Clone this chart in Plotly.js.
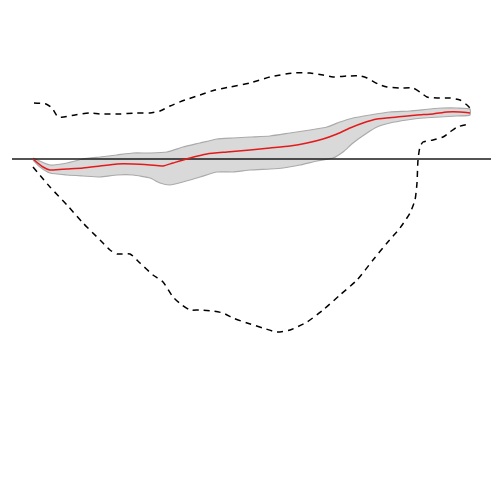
<!DOCTYPE html>
<html>
<head>
<meta charset="utf-8">
<script src="https://cdn.plot.ly/plotly-3.0.1.min.js"></script>
<style>
  html, body { margin: 0; padding: 0; background: #fff; }
  #chart { width: 500px; height: 500px; }
</style>
</head>
<body>
<div id="chart"></div>
<script>
// Values (unlabelled chart, so kept in its own plot units)
const upperX = [34, 46, 52, 58, 64, 75, 90, 100, 120, 135, 150, 160, 170, 185, 200, 215, 230, 250, 270, 293, 310, 323, 333, 347, 360, 367, 378, 387, 400, 413, 420, 427, 437, 450, 460, 467, 470];
const upperY = [103, 104, 108, 117, 117, 115, 113, 114, 114, 113, 113, 111, 106, 100, 95, 90, 87, 83, 77, 73, 73, 75, 77, 76, 76, 78, 84, 87, 88, 88, 92, 97, 98, 98, 100, 105, 108];

const lowerX = [33, 50, 67, 83, 100, 110, 117, 130, 140, 153, 163, 173, 182, 190, 200, 213, 223, 233, 247, 263, 277, 290, 307, 323, 340, 357, 373, 387, 400, 410, 415, 417, 418, 420, 423, 433, 443, 450, 457, 470];
const lowerY = [167, 187, 205, 223, 240, 250, 254, 254, 263, 275, 282, 297, 305, 310, 310, 311, 313, 318, 323, 328, 332, 330, 322, 310, 295, 280, 260, 243, 228, 213, 200, 183, 160, 147, 142, 140, 137, 132, 127, 124];

const meanX = [33, 43, 50, 67, 83, 100, 117, 133, 150, 163, 173, 190, 207, 227, 250, 270, 290, 307, 323, 337, 350, 363, 377, 397, 417, 433, 447, 460, 470];
const meanY = [159, 167, 170, 169, 168, 166, 164, 164, 165, 166, 163, 158, 154, 152, 150, 148, 146, 143, 139, 134, 128, 123, 119, 117, 115, 114, 112, 112, 113];

const bandHiX = [33, 50, 67, 83, 100, 117, 133, 150, 167, 183, 200, 217, 233, 250, 270, 290, 310, 327, 340, 353, 370, 390, 410, 430, 443, 457, 470];
const bandHiY = [158, 165, 163, 159, 157, 155, 153, 153, 152, 147, 143, 139, 138, 137, 136, 133, 130, 127, 122, 118, 115, 112, 111, 109, 108, 108, 109];

const bandLoX = [33, 40, 50, 67, 83, 100, 117, 133, 150, 160, 170, 183, 200, 217, 233, 250, 270, 283, 300, 317, 333, 343, 353, 367, 377, 390, 407, 423, 440, 457, 470];
const bandLoY = [160, 167, 173, 175, 176, 177, 175, 175, 178, 183, 185, 182, 177, 172, 172, 170, 169, 168, 165, 161, 158, 152, 143, 133, 127, 123, 120, 118, 117, 116, 115];

const zeroX = [12, 491];
const zeroY = [159, 159];

// Band as one closed polygon: upper edge then the lower edge reversed
const bandX = bandHiX.concat(bandLoX.slice().reverse());
const bandY = bandHiY.concat(bandLoY.slice().reverse());

const dashStyle = { color: '#000000', width: 1.5, dash: '6px,5px' };

const traces = [
  {
    x: bandX, y: bandY,
    type: 'scatter', mode: 'lines',
    fill: 'toself', fillcolor: '#d9d9d9',
    line: { color: '#aaaaaa', width: 1.2, shape: 'spline', smoothing: 0.5 },
    hoverinfo: 'skip'
  },
  {
    x: zeroX, y: zeroY,
    type: 'scatter', mode: 'lines',
    line: { color: '#1a1a1a', width: 1.6 }
  },
  {
    x: upperX, y: upperY,
    type: 'scatter', mode: 'lines',
    line: Object.assign({ shape: 'spline', smoothing: 0.6 }, dashStyle)
  },
  {
    x: lowerX, y: lowerY,
    type: 'scatter', mode: 'lines',
    line: Object.assign({ shape: 'spline', smoothing: 0.6 }, dashStyle)
  },
  {
    x: meanX, y: meanY,
    type: 'scatter', mode: 'lines',
    line: { color: '#e31a1c', width: 1.5, shape: 'spline', smoothing: 0.6 }
  }
];

const layout = {
  width: 500,
  height: 500,
  paper_bgcolor: '#ffffff',
  plot_bgcolor: '#ffffff',
  showlegend: false,
  margin: { t: 0, r: 0, b: 0, l: 0 },
  xaxis: { range: [0, 500], visible: false, fixedrange: true },
  yaxis: { range: [500, 0], visible: false, fixedrange: true }
};

Plotly.newPlot('chart', traces, layout, { displayModeBar: false, staticPlot: true });
</script>
</body>
</html>
